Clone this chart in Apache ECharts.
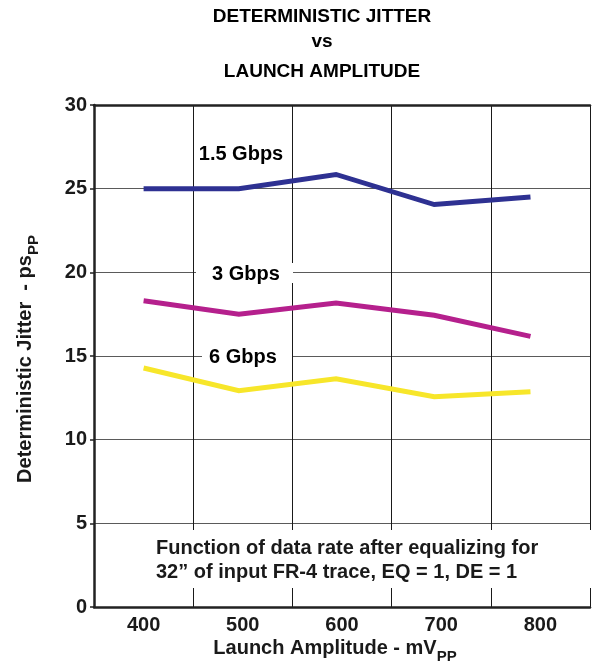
<!DOCTYPE html>
<html>
<head>
<meta charset="utf-8">
<script src="https://cdn.jsdelivr.net/npm/echarts@6/dist/echarts.min.js"></script>
<style>
html,body{margin:0;padding:0;background:#fff;}
#chart{width:593px;height:663px;}
</style>
</head>
<body>
<div id="chart"></div>
<script>
// Data
const amplitudes = [400, 496, 594, 693, 790];
const jitter15 = [25.0, 25.0, 25.85, 24.05, 24.5];
const jitter3 = [18.3, 17.5, 18.17, 17.43, 16.17];
const jitter6 = [14.28, 12.92, 13.64, 12.57, 12.87];
const seriesNames = ['1.5 Gbps', '3 Gbps', '6 Gbps'];
const xTickLabels = [400, 500, 600, 700, 800];
const titleLines = ['DETERMINISTIC JITTER', 'vs', 'LAUNCH AMPLITUDE'];
const noteLines = ['Function of data rate after equalizing for', '32\u201d of input FR-4 trace, EQ = 1, DE = 1'];

const FONT = '"Liberation Sans", Arial, sans-serif';
const TXT = '#1a1a1a';

function pairs(xs, ys){ return xs.map((x,i)=>[x, ys[i]]); }

const chart = echarts.init(document.getElementById('chart'));

const option = {
  backgroundColor: '#fff',
  animation: false,
  grid: {left: 94, right: 0, top: 105, bottom: 56},
  xAxis: [
    {
      type: 'value', position: 'bottom', min: 350, max: 850, interval: 50,
      axisLine: {show: true, lineStyle: {color: '#222', width: 2.5}},
      axisTick: {show: false},
      splitLine: {show: false},
      axisLabel: {
        show: true, margin: 8, color: TXT, fontFamily: FONT, fontWeight: 'bold', fontSize: 20,
        formatter: v => xTickLabels.indexOf(v) >= 0 ? String(v) : ''
      }
    },
    {
      type: 'value', position: 'top', min: 350, max: 850, interval: 100,
      axisLine: {show: true, onZero: false, lineStyle: {color: '#222', width: 2.5}},
      axisTick: {show: false},
      axisLabel: {show: false},
      splitLine: {show: true, lineStyle: {color: '#1a1a1a', width: 1}}
    }
  ],
  yAxis: {
    type: 'value', min: 0, max: 30, interval: 5,
    axisLine: {show: true, lineStyle: {color: '#222', width: 2.5}},
    axisTick: {show: true, length: 4, lineStyle: {color: '#222', width: 1.5}},
    axisLabel: {margin: 7, color: TXT, fontFamily: FONT, fontWeight: 'bold', fontSize: 20},
    splitLine: {show: true, lineStyle: {color: '#5a5a5a', width: 1.2}}
  },
  series: [
    {name: seriesNames[0], type: 'line', xAxisIndex: 0, data: pairs(amplitudes, jitter15), showSymbol: false, symbol: 'none',
     lineStyle: {color: '#2e3192', width: 5, cap: 'butt', join: 'miter'}, z: 5},
    {name: seriesNames[1], type: 'line', xAxisIndex: 0, data: pairs(amplitudes, jitter3), showSymbol: false, symbol: 'none',
     lineStyle: {color: '#b5208d', width: 5, cap: 'butt', join: 'miter'}, z: 5},
    {name: seriesNames[2], type: 'line', xAxisIndex: 0, data: pairs(amplitudes, jitter6), showSymbol: false, symbol: 'none',
     lineStyle: {color: '#f7e62a', width: 5, cap: 'butt', join: 'miter'}, z: 5}
  ],
  graphic: [
    // title
    {type: 'text', z: 100, x: 322, y: 17, style: {text: titleLines[0], fill: '#000', font: 'bold 19px ' + FONT, textAlign: 'center', textVerticalAlign: 'middle'}},
    {type: 'text', z: 100, x: 322, y: 42, style: {text: titleLines[1], fill: '#000', font: 'bold 19px ' + FONT, textAlign: 'center', textVerticalAlign: 'middle'}},
    {type: 'text', z: 100, x: 322, y: 72, style: {text: titleLines[2], fill: '#000', font: 'bold 19px ' + FONT, textAlign: 'center', textVerticalAlign: 'middle'}},
    // series labels
    {type: 'text', z: 100, x: 241, y: 154, style: {text: seriesNames[0], fill: '#000', font: 'bold 20px ' + FONT, textAlign: 'center', textVerticalAlign: 'middle'}},
    {type: 'rect', z: 99, shape: {x: 196, y: 263, width: 97, height: 20}, style: {fill: '#fff'}},
    {type: 'text', z: 100, x: 246, y: 274, style: {text: seriesNames[1], fill: '#000', font: 'bold 20px ' + FONT, textAlign: 'center', textVerticalAlign: 'middle'}},
    {type: 'rect', z: 99, shape: {x: 202, y: 347, width: 90, height: 20}, style: {fill: '#fff'}},
    {type: 'text', z: 100, x: 243, y: 357, style: {text: seriesNames[2], fill: '#000', font: 'bold 20px ' + FONT, textAlign: 'center', textVerticalAlign: 'middle'}},
    // note box
    {type: 'rect', z: 99, shape: {x: 97, y: 530, width: 496, height: 58}, style: {fill: '#fff'}},
    {type: 'text', z: 100, x: 156, y: 548, style: {text: noteLines[0], fill: TXT, font: 'bold 20px ' + FONT, textAlign: 'left', textVerticalAlign: 'middle'}},
    {type: 'text', z: 100, x: 156, y: 572, style: {text: noteLines[1], fill: TXT, font: 'bold 20px ' + FONT, textAlign: 'left', textVerticalAlign: 'middle'}},
    // axis names
    {type: 'text', z: 100, x: 335, y: 646, style: {
      text: '{a|Launch Amplitude - mV}{b|PP}', textAlign: 'center', textVerticalAlign: 'middle',
      rich: {a: {fill: TXT, fontFamily: FONT, fontWeight: 'bold', fontSize: 20, verticalAlign: 'bottom', lineHeight: 24},
             b: {fill: TXT, fontFamily: FONT, fontWeight: 'bold', fontSize: 15, verticalAlign: 'bottom', lineHeight: 15, padding: [0,0,-6,0]}}
    }},
    {type: 'text', z: 100, x: 23, y: 359, rotation: Math.PI / 2, style: {
      text: '{a|Deterministic Jitter  - ps}{b|PP}', textAlign: 'center', textVerticalAlign: 'middle',
      rich: {a: {fill: TXT, fontFamily: FONT, fontWeight: 'bold', fontSize: 20, verticalAlign: 'bottom', lineHeight: 24},
             b: {fill: TXT, fontFamily: FONT, fontWeight: 'bold', fontSize: 15, verticalAlign: 'bottom', lineHeight: 15, padding: [0,0,-6,0]}}
    }}
  ]
};
chart.setOption(option);
</script>
</body>
</html>
